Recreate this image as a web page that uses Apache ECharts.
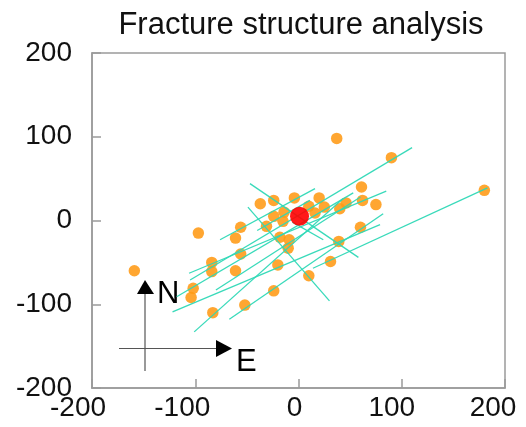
<!DOCTYPE html>
<html>
<head>
<meta charset="utf-8">
<script src="https://cdn.jsdelivr.net/npm/echarts@6/dist/echarts.min.js"></script>
<style>
  html, body { margin: 0; padding: 0; background: #fff; }
  #chart { width: 526px; height: 427px; }
</style>
</head>
<body>
<div id="chart"></div>
<script>
// Fracture observation points (easting, northing)
const pointX = [180, 90, 37, 61, 62, 75, 46, 40, 25, 20, 16, 10, -4, -24, -37, -24, -14, -15, -31, -97,
  -56, -61, -18, -9, -10, -56, -84, -84, -61, -159, -102, -104, -83, -52, -20, 10, -24, 39, 31, 60];
const pointY = [36, 75, 98, 40, 24, 19, 21, 14, 16, 27, 9, 17, 27, 24, 20, 5, 10, -1, -7, -15,
  -8, -21, -20, -23, -33, -40, -50, -61, -60, -60, -81, -92, -110, -101, -53, -66, -84, -25, -49, -8];

// Fracture traces: start and end of each segment
const traceX1 = [183, 110, 82, 85, 53, 16, 43, 79, 60, 11, -47, -49, -6];
const traceY1 = [39, 87, 8, 35, 33, 38, 26, -5, 28, 24, 44, 16, -2];
const traceX2 = [14, -105, -67, -106, -118, -76, -101, -122, -80, -40, 58, 30, 24];
const traceY2 = [-57, -71, -118, -63, -91, -23, -133, -109, -83, -12, -44, -96, -23];

// Reference centre
const centreX = [1];
const centreY = [5];

// Axis tick values
const tickValues = [-200, -100, 0, 100, 200];

const toPairs = (xs, ys) => xs.map((x, i) => [x, ys[i]]);

const chart = echarts.init(document.getElementById('chart'), null, { renderer: 'canvas' });

const FONT = 'Liberation Sans, Arial, sans-serif';
const labelBase = { color: '#111', fontSize: 28, fontFamily: FONT };

// x labels sit slightly left of their ticks
const xLabelKey = v => ({ '-200': 'a', '-100': 'b', '0': 'c', '100': 'd', '200': 'e' })[String(v)];
const xRich = {
  a: Object.assign({ padding: [0, 28, 0, 0] }, labelBase),
  b: Object.assign({ padding: [0, 26, 0, 0] }, labelBase),
  c: Object.assign({ padding: [0, 8, 0, 0] }, labelBase),
  d: Object.assign({ padding: [0, 20, 0, 0] }, labelBase),
  e: Object.assign({ padding: [0, 24, 0, 0] }, labelBase)
};

const axisCommon = {
  type: 'value',
  min: tickValues[0],
  max: tickValues[tickValues.length - 1],
  interval: tickValues[1] - tickValues[0],
  axisLine: { show: true, onZero: false, lineStyle: { color: '#9a9a9a', width: 1.5 } },
  axisTick: { show: true, inside: true, length: 9, lineStyle: { color: '#9a9a9a', width: 1.5 } },
  splitLine: { show: false },
  axisLabel: labelBase
};

chart.setOption({
  animation: false,
  title: {
    text: 'Fracture structure analysis',
    left: 296,
    textAlign: 'center',
    top: 5,
    textStyle: { color: '#111', fontSize: 31, fontWeight: 'normal', fontFamily: FONT }
  },
  grid: {
    left: 92, right: 21, top: 53, bottom: 39,
    show: true, borderColor: '#9a9a9a', borderWidth: 1.5, backgroundColor: '#fff'
  },
  xAxis: Object.assign({}, axisCommon, {
    axisLabel: Object.assign({}, labelBase, {
      margin: 6,
      formatter: v => '{' + xLabelKey(v) + '|' + v + '}',
      rich: xRich
    })
  }),
  yAxis: Object.assign({}, axisCommon, {
    axisLabel: Object.assign({}, labelBase, { margin: 20 })
  }),
  series: [
    {
      type: 'scatter',
      data: toPairs(pointX, pointY),
      symbolSize: 11.5,
      itemStyle: { color: '#ff9a14', opacity: 0.88 },
      z: 2
    },
    {
      type: 'lines',
      coordinateSystem: 'cartesian2d',
      data: traceX1.map((x, i) => ({ coords: [[x, traceY1[i]], [traceX2[i], traceY2[i]]] })),
      lineStyle: { color: '#2ed8b6', width: 1.3, opacity: 0.95 },
      z: 3
    },
    {
      type: 'scatter',
      data: toPairs(centreX, centreY),
      symbolSize: 19,
      itemStyle: { color: '#ff0000', opacity: 0.9 },
      z: 4
    }
  ],
  graphic: [
    // north arrow
    { type: 'line', shape: { x1: 145, y1: 292, x2: 145, y2: 371 }, style: { stroke: '#555', lineWidth: 1.2 } },
    { type: 'polygon', shape: { points: [[145, 280], [137, 294], [154, 294]] }, style: { fill: '#000' } },
    { type: 'text', left: 157, top: 279, style: { text: 'N', fill: '#000', fontSize: 31, fontFamily: FONT } },
    // east arrow
    { type: 'line', shape: { x1: 119, y1: 348.5, x2: 218, y2: 348.5 }, style: { stroke: '#555', lineWidth: 1.2 } },
    { type: 'polygon', shape: { points: [[232, 348.5], [216, 340], [216, 357]] }, style: { fill: '#000' } },
    { type: 'text', left: 236, top: 347, style: { text: 'E', fill: '#000', fontSize: 31, fontFamily: FONT } }
  ]
});
</script>
</body>
</html>
